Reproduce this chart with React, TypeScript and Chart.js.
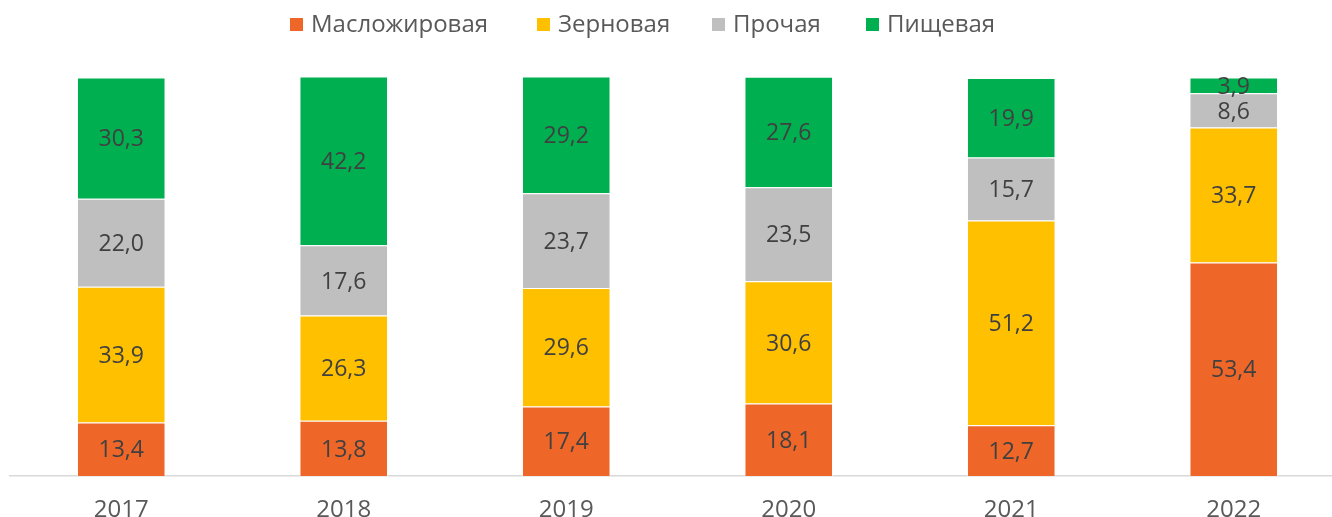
import React, { useEffect, useRef } from "react";
import { Chart, registerables } from "chart.js";

Chart.register(...registerables);

const YEARS = ["2017", "2018", "2019", "2020", "2021", "2022"];
const OIL_FAT = [13.4, 13.8, 17.4, 18.1, 12.7, 53.4];
const GRAIN = [33.9, 26.3, 29.6, 30.6, 51.2, 33.7];
const OTHER = [22.0, 17.6, 23.7, 23.5, 15.7, 8.6];
const FOOD = [30.3, 42.2, 29.2, 27.6, 19.9, 3.9];

const SERIES_NAMES = ["Масложировая", "Зерновая", "Прочая", "Пищевая"];
const SERIES_COLORS = ["#EE6729", "#FFC000", "#BFBFBF", "#00B050"];

const FONT = "'Open Sans', 'DejaVu Sans', sans-serif";
const LEGEND_X = [290, 537, 712, 866];

const dataLabelsPlugin = {
  id: "dataLabelsCustom",
  afterDatasetsDraw(chart: any) {
    const ctx = chart.ctx;
    const size = 23;
    ctx.save();
    ctx.font = `${size}px ${FONT}`;
    ctx.fillStyle = "#404040";
    ctx.textAlign = "center";
    ctx.textBaseline = "alphabetic";
    chart.data.datasets.forEach((ds: any, di: number) => {
      const meta = chart.getDatasetMeta(di);
      meta.data.forEach((el: any, i: number) => {
        const v = ds.data[i];
        const cy = (el.y + el.base) / 2;
        ctx.fillText(v.toFixed(1).replace(".", ","), el.x, cy + size * 0.714 / 2);
      });
    });
    ctx.restore();
  },
};

const legendPlugin = {
  id: "legendCustom",
  afterDraw(chart: any) {
    const ctx = chart.ctx;
    ctx.save();
    ctx.font = `24px ${FONT}`;
    ctx.textAlign = "left";
    ctx.textBaseline = "alphabetic";
    chart.data.datasets.forEach((ds: any, i: number) => {
      const x = LEGEND_X[i];
      ctx.fillStyle = ds.backgroundColor;
      ctx.fillRect(x, 18, 13, 13);
      ctx.fillStyle = "#595959";
      ctx.fillText(ds.label, x + 21, 32);
    });
    ctx.restore();
  },
};

export default function App() {
  const ref = useRef<HTMLCanvasElement | null>(null);
  useEffect(() => {
    if (!ref.current) return;
    const seriesData = [OIL_FAT, GRAIN, OTHER, FOOD];
    const chart = new Chart(ref.current, {
      type: "bar",
      data: {
        labels: YEARS,
        datasets: seriesData.map((d, i) => ({
          label: SERIES_NAMES[i],
          data: d,
          backgroundColor: SERIES_COLORS[i],
          borderColor: "rgba(255,255,255,0.7)",
          borderWidth: 1,
          categoryPercentage: 0.4,
          barPercentage: 0.995,
        })),
      },
      options: {
        responsive: true,
        maintainAspectRatio: false,
        animation: false,
        layout: { padding: { top: 76, left: 10, right: 0, bottom: 0 } },
        plugins: {
          legend: { display: false },
          tooltip: { enabled: false },
        },
        scales: {
          x: {
            stacked: true,
            grid: { display: false, drawTicks: false },
            border: { display: true, color: "#D9D9D9", width: 1.5 },
            ticks: {
              color: "#595959",
              font: { family: FONT, size: 24 },
              padding: 20,
            },
            afterFit: (scale: any) => {
              scale.height = 41;
            },
          },
          y: {
            stacked: true,
            display: false,
            min: 0,
            max: 100,
          },
        },
      },
      plugins: [dataLabelsPlugin, legendPlugin],
    });
    return () => chart.destroy();
  }, []);

  return (
    <div
      style={{
        position: "fixed",
        left: 0,
        top: 0,
        width: 1332,
        height: 517,
        overflow: "hidden",
        background: "#fff",
      }}
    >
      <div style={{ position: "relative", width: 1345, height: 517 }}>
        <canvas ref={ref} />
      </div>
    </div>
  );
}
